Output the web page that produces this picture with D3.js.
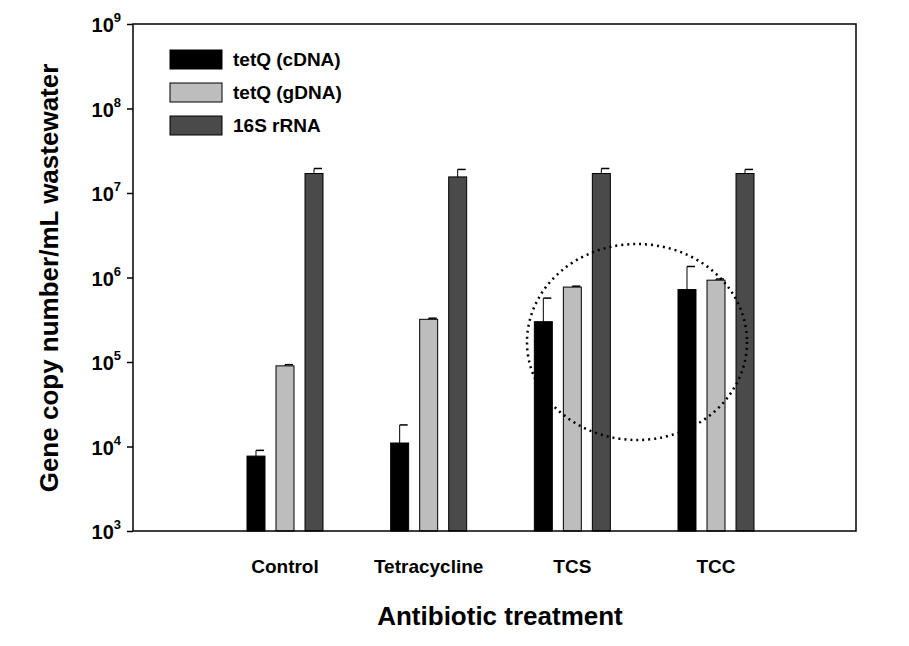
<!DOCTYPE html><html><head><script src="https://cdn.jsdelivr.net/npm/d3@7"></script>
<style>body{margin:0;background:#fff}text{font-family:Arial,"Liberation Sans",sans-serif;font-weight:bold}</style></head><body><svg id="c" width="909" height="646"></svg>
<script>
const categories=["Control","Tetracycline","TCS","TCC"];
const seriesNames=["tetQ (cDNA)","tetQ (gDNA)","16S rRNA"];
const cDNA=[7.7e3,1.1e4,3.0e5,7.2e5];
const cDNAerr=[9e3,1.8e4,5.7e5,1.35e6];
const gDNA=[9e4,3.2e5,7.7e5,9.3e5];
const gDNAerr=[9.3e4,3.3e5,7.9e5,9.6e5];
const rRNA=[1.7e7,1.55e7,1.7e7,1.7e7];
const rRNAerr=[1.95e7,1.9e7,1.95e7,1.9e7];
const tickVals=[1e3,1e4,1e5,1e6,1e7,1e8,1e9];
const colors=["#000","#bdbdbd","#4a4a4a"];
const svg=d3.select("#c");
const L=133,R=856,T=24,B=531;
const y=d3.scaleLog().domain([1e3,1e9]).range([B,T]);
const xc=d3.scalePoint().domain(categories).range([285,716]);
const off=d3.scaleBand().domain([0,1,2]).range([-38,38]).paddingInner(0.38);
const vals=[cDNA,gDNA,rRNA],errs=[cDNAerr,gDNAerr,rRNAerr];
vals.forEach((arr,s)=>{
 categories.forEach((c,i)=>{
  const x0=xc(c)+off(s),w=off.bandwidth();
  svg.append("line").attr("x1",x0+w/2).attr("x2",x0+w/2).attr("y1",y(arr[i])).attr("y2",y(errs[s][i])).attr("stroke","#000").attr("stroke-width",1);
  svg.append("line").attr("x1",x0+w/2).attr("x2",x0+w/2+8).attr("y1",y(errs[s][i])).attr("y2",y(errs[s][i])).attr("stroke","#000").attr("stroke-width",1.5);
  svg.append("rect").attr("x",x0).attr("width",w).attr("y",y(arr[i])).attr("height",B-y(arr[i])).attr("fill",colors[s]).attr("stroke","#000").attr("stroke-width",1);
 });
});
svg.append("rect").attr("x",L).attr("y",T).attr("width",R-L).attr("height",B-T).attr("fill","none").attr("stroke","#000").attr("stroke-width",1.5);
const ax=svg.append("g").attr("transform",`translate(${L},0)`).call(d3.axisLeft(y).tickValues(tickVals).tickSize(6).tickFormat(""));
ax.select(".domain").remove();
ax.selectAll("line").attr("stroke-width",1.5);
tickVals.forEach(v=>{
 const t=svg.append("text").attr("x",L-12).attr("y",y(v)+8).attr("text-anchor","end").attr("font-size",20);
 t.append("tspan").text("10");
 t.append("tspan").attr("dy",-10).attr("font-size",13).text(Math.round(Math.log10(v)));
});
categories.forEach(c=>svg.append("text").attr("x",xc(c)).attr("y",573).attr("text-anchor","middle").attr("font-size",19).text(c));
svg.append("text").attr("x",500).attr("y",625).attr("text-anchor","middle").attr("font-size",26).text("Antibiotic treatment");
svg.append("text").attr("transform","translate(58,278) rotate(-90)").attr("text-anchor","middle").attr("font-size",26).text("Gene copy number/mL wastewater");
seriesNames.forEach((n,i)=>{
 const yy=50+i*33;
 svg.append("rect").attr("x",170).attr("y",yy).attr("width",52).attr("height",19).attr("fill",colors[i]).attr("stroke","#000");
 svg.append("text").attr("x",233).attr("y",yy+16).attr("font-size",19).text(n);
});
svg.append("ellipse").attr("cx",637).attr("cy",342).attr("rx",110).attr("ry",98).attr("fill","none").attr("stroke","#000").attr("stroke-width",2.5).attr("stroke-dasharray","2,4");
</script></body></html>
